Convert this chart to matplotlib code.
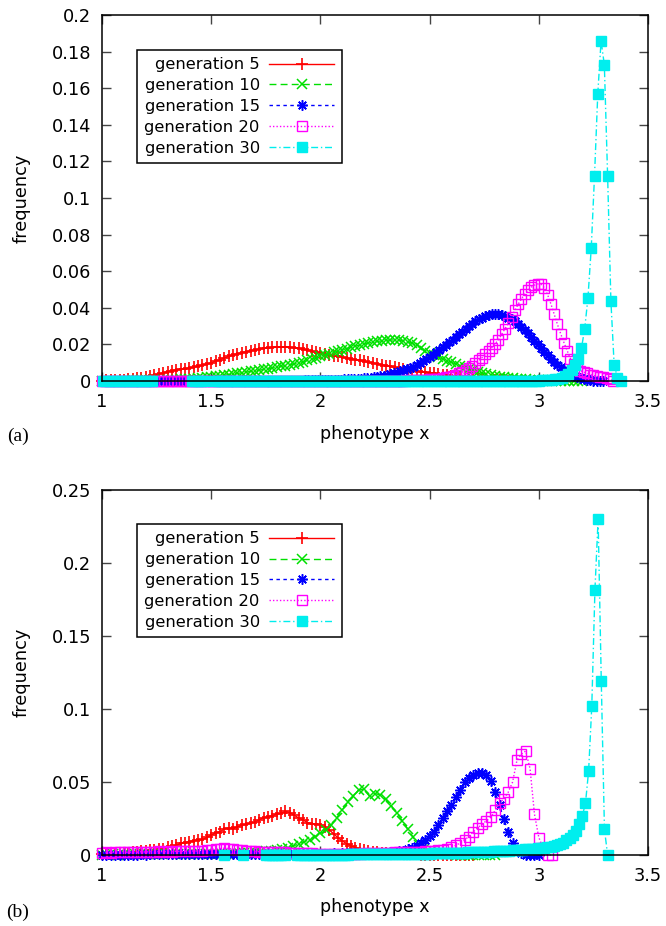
import numpy as np
import matplotlib
matplotlib.use("Agg")
import matplotlib.pyplot as plt
from matplotlib.ticker import MultipleLocator, FormatStrFormatter

nan = np.nan

# ================================
# Data
# ================================
labels = ["generation 5", "generation 10", "generation 15",
          "generation 20", "generation 30"]

# panel (a): first phenotype value and spacing of the samples per generation
a_start = [1.0, 1.0, 1.0, 1.0, 1.005]
a_step = [0.02, 0.02, 0.015, 0.015, 0.015]

a_gen5 = [
    0.0002, 0.0003, 0.0003, 0.0004, 0.0005, 0.0007, 0.0009, 0.0011, 0.0014, 0.0017,
    0.0021, 0.0026, 0.0031, 0.0037, 0.0044, 0.0051, 0.0057, 0.0061, 0.0064, 0.0067,
    0.0070, 0.0075, 0.0080, 0.0086, 0.0092, 0.0099, 0.0108, 0.0117, 0.0126, 0.0134,
    0.0142, 0.0148, 0.0154, 0.0160, 0.0165, 0.0170, 0.0174, 0.0178, 0.0181, 0.0183,
    0.0184, 0.0185, 0.0185, 0.0184, 0.0181, 0.0178, 0.0173, 0.0168, 0.0163, 0.0158,
    0.0154, 0.0149, 0.0144, 0.0139, 0.0134, 0.0130, 0.0125, 0.0121, 0.0116, 0.0112,
    0.0107, 0.0102, 0.0098, 0.0093, 0.0089, 0.0084, 0.0079, 0.0074, 0.0069, 0.0065,
    0.0061, 0.0057, 0.0053, 0.0050, 0.0047, 0.0044, 0.0041, 0.0038, 0.0035, 0.0031,
    0.0028, 0.0025, 0.0022, 0.0019, 0.0016, 0.0013, 0.0011, 0.0009, 0.0007, 0.0006,
    0.0005, 0.0004, 0.0003, 0.0002, 0.0002, 0.0001, 0.0001, 0.0, 0.0, 0.0,
    0.0,
]
a_gen10 = [
    0.0001, 0.0001, 0.0001, 0.0001, 0.0002, 0.0002, 0.0002, 0.0003, 0.0003, 0.0003,
    0.0003, 0.0004, 0.0004, 0.0004, 0.0005, 0.0005, 0.0006, 0.0007, 0.0008, 0.0009,
    0.0010, 0.0012, 0.0014, 0.0017, 0.0019, 0.0022, 0.0025, 0.0028, 0.0031, 0.0035,
    0.0038, 0.0041, 0.0045, 0.0048, 0.0052, 0.0055, 0.0059, 0.0063, 0.0067, 0.0071,
    0.0075, 0.0080, 0.0084, 0.0089, 0.0093, 0.0098, 0.0105, 0.0112, 0.0120, 0.0127,
    0.0135, 0.0142, 0.0149, 0.0156, 0.0163, 0.0170, 0.0177, 0.0184, 0.0190, 0.0196,
    0.0202, 0.0207, 0.0212, 0.0216, 0.0219, 0.0222, 0.0224, 0.0224, 0.0222, 0.0219,
    0.0214, 0.0206, 0.0195, 0.0181, 0.0166, 0.0152, 0.0140, 0.0130, 0.0120, 0.0111,
    0.0102, 0.0092, 0.0083, 0.0074, 0.0066, 0.0058, 0.0050, 0.0043, 0.0037, 0.0032,
    0.0027, 0.0024, 0.0021, 0.0018, 0.0015, 0.0012, 0.0010, 0.0008, 0.0007, 0.0006,
    0.0005, 0.0004, 0.0003, 0.0002, 0.0002, 0.0001, 0.0001, 0.0, 0.0, 0.0,
    0.0,
]
a_gen15 = [
    0, 0, 0, 0, 0, 0, 0, 0, 0, 0,
    0, 0, 0, 0, 0, 0, 0, 0, 0, 0,
    0, 0, 0, 0, 0, 0, 0, 0, 0, 0,
    0, 0, 0, 0, 0, 0, 0, 0, 0, 0,
    0, 0, 0, 0, 0, 0, 0, 0, 0, 0,
    0, 0, 0, 0, 0, 0, 0, 0, 0, 0,
    0.0002, 0.0002, 0.0003, 0.0003, 0.0003, 0.0004, 0.0004, 0.0004, 0.0005, 0.0005,
    0.0006, 0.0006, 0.0007, 0.0007, 0.0008, 0.0009, 0.0010, 0.0011, 0.0012, 0.0013,
    0.0014, 0.0016, 0.0018, 0.0020, 0.0022, 0.0025, 0.0028, 0.0031, 0.0036, 0.0041,
    0.0046, 0.0052, 0.0058, 0.0064, 0.0071, 0.0078, 0.0088, 0.0098, 0.0109, 0.0120,
    0.0131, 0.0144, 0.0157, 0.0170, 0.0184, 0.0198, 0.0212, 0.0226, 0.0240, 0.0254,
    0.0268, 0.0283, 0.0298, 0.0312, 0.0325, 0.0336, 0.0346, 0.0354, 0.0360, 0.0364,
    0.0365, 0.0364, 0.0360, 0.0354, 0.0346, 0.0336, 0.0325, 0.0311, 0.0295, 0.0278,
    0.0260, 0.0240, 0.0220, 0.0200, 0.0180, 0.0160, 0.0140, 0.0121, 0.0104, 0.0088,
    0.0074, 0.0061, 0.0049, 0.0038, 0.0028, 0.0020, 0.0014, 0.0009, 0.0006, 0.0003,
    0.0002, 0.0, 0.0, 0.0,
]
a_gen20 = [
    0, 0, 0, 0, 0, 0, 0, 0, 0, 0,
    0, 0, 0, 0, 0, 0, 0, 0, 0, 0,
    0, 0, 0, 0, 0, 0, 0, 0, 0, 0,
    0, 0, 0, 0, 0, 0, 0, 0, 0, 0,
    0, 0, 0, 0, 0, 0, 0, 0, 0, 0,
    0, 0, 0, 0, 0, 0, 0, 0, 0, 0,
    0, 0, 0, 0, 0, 0, 0, 0, 0, 0,
    0, 0, 0, 0, 0, 0, 0, 0, 0, 0,
    0, 0, 0, 0, 0, 0, 0, 0, 0, 0,
    0.0002, 0.0002, 0.0002, 0.0003, 0.0003, 0.0004, 0.0004, 0.0005, 0.0006, 0.0007,
    0.0008, 0.0009, 0.0011, 0.0013, 0.0016, 0.0019, 0.0023, 0.0028, 0.0034, 0.0041,
    0.0049, 0.0059, 0.0070, 0.0083, 0.0097, 0.0112, 0.0128, 0.0145, 0.0163, 0.0182,
    0.0203, 0.0225, 0.0255, 0.0285, 0.0315, 0.0350, 0.0385, 0.0418, 0.0448, 0.0474,
    0.0495, 0.0512, 0.0524, 0.0530, 0.0528, 0.0510, 0.0472, 0.0422, 0.0365, 0.0310,
    0.0258, 0.0210, 0.0165, 0.0122, 0.0090, 0.0068, 0.0057, 0.0049, 0.0042, 0.0035,
    0.0030, 0.0026, 0.0023, 0.0020, 0.0015, 0.0008, 0.0002,
]
a_gen30 = [
    0, 0, 0, 0, 0, 0, 0, 0, 0, 0,
    0, 0, 0, 0, 0, 0, nan, nan, nan, nan,
    nan, nan, nan, nan, nan, nan, nan, 0, 0, 0,
    0, 0, nan, nan, 0, 0, 0, 0, 0, 0,
    0, 0, 0, 0, 0, 0, 0, 0, 0, 0,
    0, 0, 0, 0, 0, 0, 0, 0, 0, 0,
    0, 0, 0, 0, 0, 0, 0, 0, 0, 0,
    0, 0, 0, 0, 0, 0, 0, 0, 0, 0,
    0, 0, 0, 0, 0, 0, 0, 0, 0, 0,
    0, 0, 0, 0, 0, 0, 0, 0, 0, 0,
    0, 0, 0, 0, 0, 0, 0, 0, 0, 0,
    0, 0, 0, 0, 0, 0, 0, 0, 0, 0,
    0, 0, 0, 0, 0, 0, 0, 0, 0, 0,
    0, 0, 0, 0, 0.0003, 0.0004, 0.0005, 0.0006, 0.0008, 0.0011,
    0.0016, 0.0025, 0.0038, 0.0058, 0.0085, 0.0118, 0.0178, 0.0284, 0.0455, 0.0725,
    0.1120, 0.1570, 0.1858, 0.1727, 0.1120, 0.0437, 0.0087, 0.0018, 0.0,
]

# panel (b)
b_start = [1.0, 1.0, 1.0, 1.0, 1.5605]
b_step = [0.02, 0.025, 0.02, 0.02, 0.0145]

b_gen5 = [
    0.0008, 0.0010, 0.0007, 0.0012, 0.0010, 0.0015, 0.0013, 0.0019, 0.0018, 0.0025,
    0.0029, 0.0034, 0.0031, 0.0043, 0.0040, 0.0054, 0.0060, 0.0066, 0.0079, 0.0085,
    0.0092, 0.0099, 0.0102, 0.0106, 0.0121, 0.0136, 0.0151, 0.0160, 0.0177, 0.0186,
    0.0181, 0.0192, 0.0204, 0.0210, 0.0218, 0.0226, 0.0241, 0.0256, 0.0261, 0.0270,
    0.0279, 0.0286, 0.0298, 0.0290, 0.0272, 0.0254, 0.0240, 0.0222, 0.0215, 0.0211,
    0.0208, 0.0190, 0.0172, 0.0146, 0.0118, 0.0096, 0.0078, 0.0063, 0.0051, 0.0042,
    0.0033, 0.0028, 0.0021, 0.0017, 0.0013, 0.0011, 0.0009, 0.0008, 0.0007, 0.0006,
    0.0005, 0.0004, 0.0004, 0.0003, 0.0003, 0.0002, 0.0002, 0.0001, 0.0001, 0.0,
    0.0, 0.0, 0.0, 0.0, 0.0, 0.0,
]
b_gen10 = [
    0.0003, 0.0003, 0.0004, 0.0003, 0.0004, 0.0004, 0.0005, 0.0004, 0.0005, 0.0005,
    0.0006, 0.0005, 0.0006, 0.0006, 0.0007, 0.0006, 0.0007, 0.0007, 0.0008, 0.0007,
    0.0008, 0.0008, 0.0009, 0.0009, 0.0010, 0.0012, 0.0014, 0.0016, 0.0019, 0.0022,
    0.0026, 0.0030, 0.0035, 0.0042, 0.0050, 0.0062, 0.0075, 0.0090, 0.0105, 0.0125,
    0.0148, 0.0168, 0.0205, 0.0255, 0.0310, 0.0360, 0.0405, 0.0445, 0.0450, 0.0402,
    0.0420, 0.0412, 0.0380, 0.0335, 0.0285, 0.0235, 0.0176, 0.0120, 0.0068, 0.0038,
    0.0022, 0.0014, 0.0010, 0.0007, 0.0005, 0.0003, 0.0002, 0.0001, 0.0, 0.0,
    0.0, 0.0, 0.0,
]
b_gen15 = [
    0.0002, 0.0002, 0.0002, 0.0003, 0.0002, 0.0003, 0.0003, 0.0003, 0.0003, 0.0004,
    0.0003, 0.0004, 0.0004, 0.0004, 0.0004, 0.0005, 0.0004, 0.0005, 0.0005, 0.0005,
    0.0005, 0.0006, 0.0005, 0.0006, 0.0006, 0.0006, 0.0006, 0.0006, 0.0007, 0.0006,
    0.0007, 0.0007, 0.0007, 0.0007, 0.0007, 0.0008, 0.0007, 0.0008, 0.0008, 0.0008,
    0.0008, 0.0008, 0.0009, 0.0008, 0.0009, 0.0009, 0.0009, 0.0009, 0.0010, 0.0009,
    0.0010, 0.0010, 0.0010, 0.0011, 0.0010, 0.0011, 0.0011, 0.0012, 0.0012, 0.0012,
    0.0013, 0.0013, 0.0014, 0.0014, 0.0015, 0.0015, 0.0018, 0.0020, 0.0025, 0.0030,
    0.0039, 0.0050, 0.0062, 0.0080, 0.0103, 0.0128, 0.0160, 0.0205, 0.0250, 0.0298,
    0.0345, 0.0400, 0.0448, 0.0500, 0.0528, 0.0548, 0.0560, 0.0563, 0.0545, 0.0505,
    0.0430, 0.0340, 0.0245, 0.0158, 0.0085, 0.0035, 0.0012, 0.0003, 0.0, 0.0,
    0.0,
]
b_gen20 = [
    0.0015, 0.0018, 0.0016, 0.0019, 0.0017, 0.0020, 0.0018, 0.0021, 0.0019, 0.0022,
    0.0020, 0.0023, 0.0021, 0.0024, 0.0022, 0.0025, 0.0023, 0.0026, 0.0024, 0.0027,
    0.0025, 0.0028, 0.0026, 0.0030, 0.0033, 0.0037, 0.0041, 0.0044, 0.0046, 0.0044,
    0.0040, 0.0035, 0.0031, 0.0028, 0.0026, 0.0024, 0.0023, 0.0022, 0.0021, 0.0020,
    0.0019, 0.0018, 0.0017, 0.0016, 0.0015, 0.0014, 0.0013, 0.0012, 0.0011, 0.0010,
    0.0010, 0.0009, 0.0009, 0.0008, 0.0008, 0.0008, 0.0009, 0.0009, 0.0010, 0.0010,
    0.0011, 0.0011, 0.0012, 0.0013, 0.0014, 0.0015, 0.0016, 0.0017, 0.0018, 0.0019,
    0.0020, 0.0021, 0.0022, 0.0023, 0.0024, 0.0025, 0.0028, 0.0032, 0.0036, 0.0040,
    0.0052, 0.0066, 0.0082, 0.0104, 0.0126, 0.0158, 0.0186, 0.0210, 0.0235, 0.0258,
    0.0305, 0.0355, 0.0385, 0.0430, 0.0500, 0.0650, 0.0690, 0.0712, 0.0590, 0.0280,
    0.0119, 0.0050, 0.0, 0.0,
]
b_gen30 = [
    0, nan, nan, nan, nan, nan, 0, nan, nan, nan,
    nan, nan, nan, 0, 0, 0, 0, 0, 0, 0,
    nan, nan, nan, 0.0002, 0.0002, 0.0002, 0.0002, 0.0002, 0.0002, 0.0002,
    0.0003, 0.0003, 0.0003, 0.0003, 0.0003, 0.0003, 0.0003, 0.0003, 0.0003, 0.0003,
    0.0004, 0.0004, 0.0004, 0.0004, 0.0004, 0.0004, 0.0004, 0.0004, 0.0004, 0.0004,
    0.0005, 0.0005, 0.0005, 0.0006, 0.0006, 0.0006, 0.0006, 0.0007, 0.0007, 0.0007,
    0.0008, 0.0008, 0.0009, 0.0009, 0.0010, 0.0010, 0.0011, 0.0011, 0.0012, 0.0012,
    0.0013, 0.0013, 0.0014, 0.0014, 0.0015, 0.0015, 0.0016, 0.0017, 0.0017, 0.0018,
    0.0019, 0.0020, 0.0021, 0.0022, 0.0023, 0.0024, 0.0025, 0.0026, 0.0027, 0.0028,
    0.0030, 0.0031, 0.0033, 0.0034, 0.0036, 0.0038, 0.0040, 0.0042, 0.0044, 0.0046,
    0.0048, 0.0050, 0.0052, 0.0055, 0.0060, 0.0066, 0.0075, 0.0085, 0.0100, 0.0119,
    0.0140, 0.0164, 0.0210, 0.0267, 0.0353, 0.0575, 0.1019, 0.1817, 0.2300, 0.1190,
    0.0176, 0.0,
]

a_series = [a_gen5, a_gen10, a_gen15, a_gen20, a_gen30]
b_series = [b_gen5, b_gen10, b_gen15, b_gen20, b_gen30]

# ================================
# Styles (gnuplot-like)
# ================================
colors = ["#ff0000", "#00e000", "#0000ff", "#ff00ff", "#00eeee"]
linestyles = ["-", (0, (5, 3)), (0, (2.5, 2.5)), (0, (1, 1.5)), (0, (5, 2, 1, 2))]
markers = ["+", "x", (8, 2, 0), "s", "s"]
msizes = [8, 6.8, 7.5, 6.5, 6.8]
mews = [1.2, 1.1, 1.1, 1.0, 1.0]
hollow = [False, False, False, True, False]

plt.rcParams["font.family"] = ["DejaVu Sans"]

fig = plt.figure(figsize=(6.66, 9.26), dpi=100)
ax_a = fig.add_axes([0.1532, 0.5886, 0.8198, 0.3953])
ax_b = fig.add_axes([0.1532, 0.0767, 0.8198, 0.3942])


def draw_panel(ax, starts, steps, series, ymax, ystep, legend_top):
    for i, freq in enumerate(series):
        f = np.array(freq, dtype=float)
        x = starts[i] + steps[i] * np.arange(len(f))
        ax.plot(x, f, color=colors[i], ls=linestyles[i], lw=1.0,
                marker=markers[i], ms=msizes[i], mew=mews[i],
                mfc="none" if hollow[i] else colors[i], mec=colors[i],
                label=labels[i], clip_on=False, zorder=3 + i)

    ax.set_xlim(1, 3.5)
    ax.set_ylim(0, ymax)
    ax.xaxis.set_major_locator(MultipleLocator(0.5))
    ax.yaxis.set_major_locator(MultipleLocator(ystep))
    ax.xaxis.set_major_formatter(FormatStrFormatter("%g"))
    ax.yaxis.set_major_formatter(FormatStrFormatter("%g"))
    ax.tick_params(direction="in", length=6.5, width=1, color="#444444",
                   top=True, right=True, labelsize=12.8)
    ax.tick_params(axis="x", pad=9)
    ax.tick_params(axis="y", pad=8)
    for s in ax.spines.values():
        s.set_linewidth(1.1)
        s.set_zorder(20)

    ax.set_xlabel("phenotype x", fontsize=12.5)
    ax.set_ylabel("frequency", fontsize=12.8)
    ax.xaxis.set_label_coords(0.5, -0.119)
    ax.yaxis.set_label_coords(-0.131, 0.5)

    leg = ax.legend(loc="upper left", bbox_to_anchor=(0.0641, legend_top),
                    borderaxespad=0, markerfirst=False, numpoints=1,
                    fontsize=11.8, handlelength=4.0, handletextpad=0.55,
                    borderpad=0.45, labelspacing=0.36, fancybox=False,
                    framealpha=1)
    leg.get_frame().set_edgecolor("black")
    leg.get_frame().set_linewidth(1.1)
    leg.set_zorder(30)


draw_panel(ax_a, a_start, a_step, a_series, 0.2, 0.02, 0.9044)
draw_panel(ax_b, b_start, b_step, b_series, 0.25, 0.05, 0.9068)

fig.text(18 / 666, 1 - 436 / 926, "(a)", family="Liberation Serif",
         fontsize=14, ha="center", va="center")
fig.text(18 / 666, 1 - 912 / 926, "(b)", family="Liberation Serif",
         fontsize=14, ha="center", va="center")

fig.savefig("out.png", dpi=100)
